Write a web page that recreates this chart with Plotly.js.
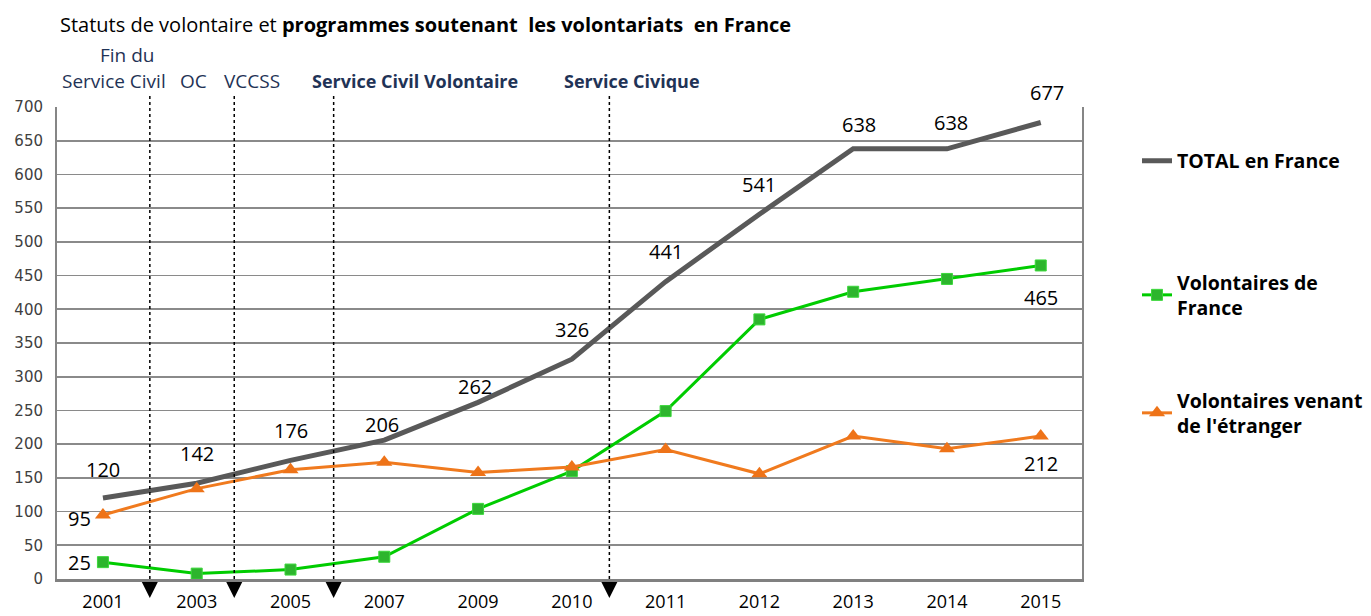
<!DOCTYPE html>
<html>
<head>
<meta charset="utf-8">
<script src="https://cdn.plot.ly/plotly-3.0.1.min.js"></script>
<style>html,body{margin:0;padding:0;background:#fff;}#chart{width:1371px;height:616px;}</style>
</head>
<body>
<div id="chart"></div>
<script>
// ---- Data ----
const years = ['2001','2003','2005','2007','2009','2010','2011','2012','2013','2014','2015'];
const total = [120,142,176,206,262,326,441,541,638,638,677];
const volontairesFrance = [25,8,14,33,104,160,249,385,426,445,465];
const volontairesEtranger = [95,134,162,173,158,166,192,156,212,193,212];
const seriesNames = ['TOTAL en France', 'Volontaires de<br>France', "Volontaires venant<br>de l'étranger"];
const eventNames = ['Fin du', 'Service Civil', 'OC', 'VCCSS', 'Service Civil Volontaire', 'Service Civique'];
const eventMarks = [0.5, 1.4, 2.46, 5.4];   // position on the year scale of each programme start
const yTicks = [0,50,100,150,200,250,300,350,400,450,500,550,600,650,700];

// ---- Layout helpers ----
const W = 1371, H = 616;
const L = 57, R = 1082, T = 107, B = 579;
const px2x = p => (p - L) / (R - L);
const px2y = p => (B - p) / (B - T);
const idx = years.map((_, i) => i);
const FONT = '"Open Sans", "Noto Sans", sans-serif';

const traces = [
  {x: idx, y: total, name: seriesNames[0], type: 'scatter', mode: 'lines',
   line: {color: '#595959', width: 5}, legend: 'legend', hoverinfo: 'skip'},
  {x: idx, y: volontairesFrance, name: seriesNames[1], type: 'scatter', mode: 'lines+markers',
   line: {color: '#00CC00', width: 3},
   marker: {symbol: 'square', size: 11, color: '#2DB52D', line: {color: '#3AD83A', width: 1}},
   legend: 'legend2', hoverinfo: 'skip'},
  {x: idx, y: volontairesEtranger, name: seriesNames[2], type: 'scatter', mode: 'lines+markers',
   line: {color: '#F07A1E', width: 3},
   marker: {symbol: 'triangle-up', size: 14, color: '#EE7318'},
   legend: 'legend3', hoverinfo: 'skip'}
];

const annotations = [];
const LBL = {family: FONT, size: 20, color: '#000'};
const totalShift = [[0,29],[0,30],[0,30],[-2,16],[-3,16],[0,30],[0,30],[0,30],[6,24],[4,26],[6,30]];
total.forEach((v, i) => annotations.push({x: i, y: v, xref: 'x', yref: 'y', text: String(v), showarrow: false,
  xshift: totalShift[i][0], yshift: totalShift[i][1], font: LBL}));
const last = years.length - 1;
annotations.push({x: 0, y: volontairesFrance[0], xref: 'x', yref: 'y', text: String(volontairesFrance[0]), showarrow: false,
  xshift: -23, yshift: 0, font: LBL});
annotations.push({x: last, y: volontairesFrance[last], xref: 'x', yref: 'y', text: String(volontairesFrance[last]), showarrow: false,
  xshift: 0, yshift: -32, font: LBL});
annotations.push({x: 0, y: volontairesEtranger[0], xref: 'x', yref: 'y', text: String(volontairesEtranger[0]), showarrow: false,
  xshift: -23, yshift: -4, font: LBL});
annotations.push({x: last, y: volontairesEtranger[last], xref: 'x', yref: 'y', text: String(volontairesEtranger[last]), showarrow: false,
  xshift: 0, yshift: -27, font: LBL});

// programme labels above the plot
const evColor = '#1F3356';
const evPos = [[127, 55, 'center'], [60, 81, 'left'], [178, 81, 'left'], [222, 81, 'left'], [310, 81, 'left'], [562, 81, 'left']];
eventNames.forEach((t, i) => {
  const bold = i >= 4;
  annotations.push({xref: 'paper', yref: 'paper', x: px2x(evPos[i][0]), y: px2y(evPos[i][1]),
    xanchor: evPos[i][2], yanchor: 'middle', showarrow: false,
    text: bold ? '<b>' + t + '</b>' : t,
    font: {family: FONT, size: bold ? 18 : 19, color: evColor}});
});

const shapes = eventMarks.map(p => ({type: 'line', xref: 'x', yref: 'paper', x0: p, x1: p,
  y0: 0, y1: px2y(93), line: {color: '#000', width: 1.5, dash: 'dot'}}));
// down-pointing arrowheads below the axis at each programme start
eventMarks.forEach(p => shapes.push({type: 'path', xref: 'x', yref: 'paper', xsizemode: 'pixel', ysizemode: 'pixel',
  xanchor: p, yanchor: 0, path: 'M -8,-3 L 8,-3 L 0,-19 Z', fillcolor: '#000', line: {width: 0}}));

const legFont = {family: FONT, size: 19.5, color: '#000', weight: 'bold'};
const mkLegend = (py) => ({x: 1137 / W, y: 1 - py / H, xanchor: 'left', yanchor: 'middle',
  xref: 'container', yref: 'container', bgcolor: 'rgba(0,0,0,0)', font: legFont, itemwidth: 30});

const layout = {
  width: W, height: H,
  margin: {l: L, r: W - R, t: T, b: H - B, autoexpand: false},
  paper_bgcolor: '#fff', plot_bgcolor: '#fff',
  title: {text: 'Statuts de volontaire et <b>programmes soutenant  les volontariats  en France</b>',
    x: 60 / W, xanchor: 'left', xref: 'container', y: 1 - 25 / H, yanchor: 'middle', yref: 'container',
    font: {family: FONT, size: 20, color: '#000'}},
  xaxis: {range: [-0.49, 10.44], tickvals: idx, ticktext: years, showgrid: false, zeroline: false,
    showline: true, linecolor: '#808080', linewidth: 3, ticks: '', ticklabelstandoff: 4,
    tickfont: {family: FONT, size: 18, color: '#000'}, fixedrange: true},
  yaxis: {range: [0, 700], tickvals: yTicks, showgrid: true, gridcolor: '#8a8a8a', gridwidth: 1.6,
    zeroline: false, showline: true, linecolor: '#868686', linewidth: 2, mirror: true, ticks: '',
    ticklabelstandoff: 9, tickfont: {family: '"DejaVu Sans", sans-serif', size: 15, color: '#404040'}, fixedrange: true},
  showlegend: true,
  legend: mkLegend(161),
  legend2: mkLegend(295),
  legend3: mkLegend(413),
  annotations: annotations,
  shapes: shapes
};

Plotly.newPlot('chart', traces, layout, {displayModeBar: false, staticPlot: true});
</script>
</body>
</html>
